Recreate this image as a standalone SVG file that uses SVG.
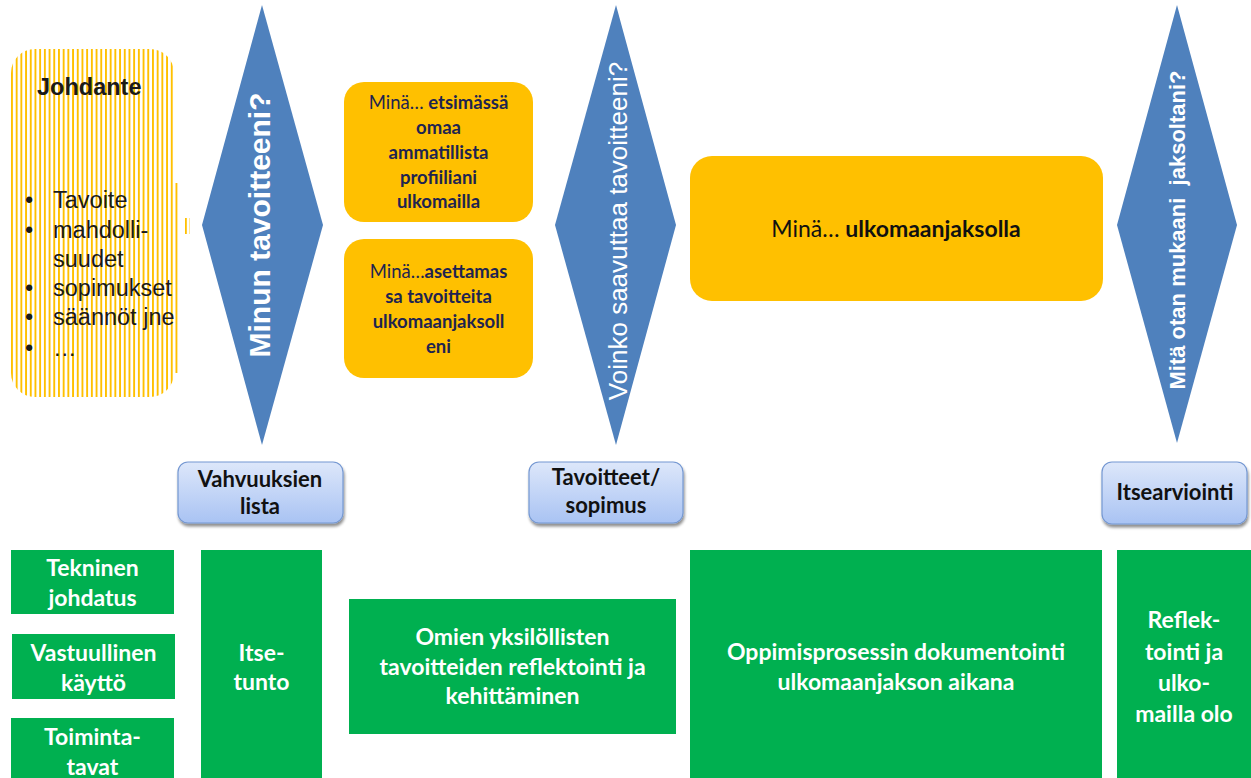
<svg xmlns="http://www.w3.org/2000/svg" width="1251" height="778" viewBox="0 0 1251 778">
<defs>
  <pattern id="stripes" patternUnits="userSpaceOnUse" x="11" y="0" width="4.7" height="10">
    <rect x="0" y="0" width="4.7" height="10" fill="#ffffff"/>
    <rect x="0" y="0" width="1.9" height="10" fill="#FFC000"/>
  </pattern>
  <linearGradient id="blueGrad" x1="0" y1="0" x2="0" y2="1">
    <stop offset="0" stop-color="#DDE7FA"/>
    <stop offset="1" stop-color="#A9C3F3"/>
  </linearGradient>
  <filter id="shadow" x="-10%" y="-10%" width="120%" height="140%">
    <feGaussianBlur in="SourceAlpha" stdDeviation="1.5"/>
    <feOffset dx="1" dy="3" result="b"/>
    <feComponentTransfer><feFuncA type="linear" slope="0.45"/></feComponentTransfer>
    <feMerge><feMergeNode/><feMergeNode in="SourceGraphic"/></feMerge>
  </filter>
</defs>
<style>
  .diamond { fill: #4F81BD; }
  .dtext { fill: #ffffff; font-family: "Liberation Sans", Arial, sans-serif; text-anchor: middle; }
  .orange { fill: #FFC000; }
  .otext { fill: #1E2450; font-family: Lato, "Liberation Sans", sans-serif; font-size: 18.5px; text-anchor: middle; }
  .big { fill: #111111; font-size: 23px; }
  .blue { fill: url(#blueGrad); stroke: #7598D2; stroke-width: 1.2; filter: url(#shadow); }
  .btext { fill: #111111; font-family: Lato, "Liberation Sans", sans-serif; font-weight: bold; font-size: 22px; text-anchor: middle; }
  .green { fill: #00B050; }
  .gtext { fill: #ffffff; font-family: Lato, "Liberation Sans", sans-serif; font-weight: bold; font-size: 23px; text-anchor: middle; }
  .jtext { fill: #1a1a1a; font-family: "Liberation Sans", Arial, sans-serif; font-size: 23.5px; }
  .bold { font-weight: bold; }
</style>
<rect width="1251" height="778" fill="#ffffff"/>

<g id="johdante">
  <rect x="11" y="49" width="163" height="348" rx="24" fill="url(#stripes)"/>
  <rect x="174" y="183" width="5" height="190" fill="url(#stripes)"/>
  <rect x="185" y="218" width="5" height="16" fill="url(#stripes)"/>
  <text class="jtext" x="37" y="95" font-weight="bold" font-size="24">Johdante</text>
  <text class="jtext" x="25" y="208">•</text>
  <text class="jtext" x="53" y="208">Tavoite</text>
  <text class="jtext" x="25" y="238">•</text>
  <text class="jtext" x="53" y="238">mahdolli-</text>
  <text class="jtext" x="53" y="267">suudet</text>
  <text class="jtext" x="25" y="296">•</text>
  <text class="jtext" x="53" y="296">sopimukset</text>
  <text class="jtext" x="25" y="325">•</text>
  <text class="jtext" x="53" y="325">säännöt jne</text>
  <text class="jtext" x="25" y="356">•</text>
  <text class="jtext" x="53" y="356" font-size="16" fill="#555">…</text>
</g>

<g id="diamond1">
  <polygon class="diamond" points="262,5 323,225 262,445 202,225"/>
  <text class="dtext" transform="translate(270,225) rotate(-90)" font-size="30" font-weight="bold">Minun tavoitteeni?</text>
</g>
<g id="diamond2">
  <polygon class="diamond" points="616,5 676,225 616,445 555,225"/>
  <text class="dtext" transform="translate(627,231) rotate(-90)" font-size="26">Voinko saavuttaa tavoitteeni?</text>
</g>
<g id="diamond3">
  <polygon class="diamond" points="1177,5 1237,225 1177,443 1117,225"/>
  <text class="dtext" transform="translate(1185,230) rotate(-90)" font-size="22" font-weight="bold" xml:space="preserve">Mitä otan mukaani  jaksoltani?</text>
</g>

<g id="orange1">
  <rect class="orange" x="344" y="82" width="189" height="140" rx="20"/>
  <text class="otext" x="438.5" y="109">Minä… <tspan class="bold">etsimässä</tspan></text>
  <text class="otext bold" x="438.5" y="134">omaa</text>
  <text class="otext bold" x="438.5" y="159">ammatillista</text>
  <text class="otext bold" x="438.5" y="184">profiiliani</text>
  <text class="otext bold" x="438.5" y="208">ulkomailla</text>
</g>
<g id="orange2">
  <rect class="orange" x="344" y="239" width="189" height="139" rx="20"/>
  <text class="otext" x="438.5" y="278">Minä…<tspan class="bold">asettamas</tspan></text>
  <text class="otext bold" x="438.5" y="303">sa tavoitteita</text>
  <text class="otext bold" x="438.5" y="328">ulkomaanjaksoll</text>
  <text class="otext bold" x="438.5" y="353">eni</text>
</g>
<g id="orange3">
  <rect class="orange" x="690" y="156" width="413" height="145" rx="22"/>
  <text class="otext big" x="896" y="237">Minä… <tspan class="bold">ulkomaanjaksolla</tspan></text>
</g>

<g id="blue1">
  <rect class="blue" x="178" y="462" width="165" height="61" rx="10"/>
  <text class="btext" x="260" y="487">Vahvuuksien</text>
  <text class="btext" x="260" y="514">lista</text>
</g>
<g id="blue2">
  <rect class="blue" x="529" y="462" width="154" height="61" rx="10"/>
  <text class="btext" x="606" y="485">Tavoitteet/</text>
  <text class="btext" x="606" y="513">sopimus</text>
</g>
<g id="blue3">
  <rect class="blue" x="1102" y="462" width="145" height="62" rx="10"/>
  <text class="btext" x="1175" y="500">Itsearviointi</text>
</g>

<g id="green-tekninen">
  <rect class="green" x="11" y="550" width="163" height="64"/>
  <text class="gtext" x="92.5" y="576">Tekninen</text>
  <text class="gtext" x="92.5" y="606">johdatus</text>
</g>
<g id="green-vastuullinen">
  <rect class="green" x="12" y="634" width="163" height="65"/>
  <text class="gtext" x="93.5" y="661">Vastuullinen</text>
  <text class="gtext" x="93.5" y="691">käyttö</text>
</g>
<g id="green-toiminta">
  <rect class="green" x="11" y="718" width="163" height="60"/>
  <text class="gtext" x="92.5" y="745">Toiminta-</text>
  <text class="gtext" x="92.5" y="775">tavat</text>
</g>
<g id="green-itsetunto">
  <rect class="green" x="201" y="550" width="121" height="228"/>
  <text class="gtext" x="261.5" y="661">Itse-</text>
  <text class="gtext" x="261.5" y="690">tunto</text>
</g>
<g id="green-omien">
  <rect class="green" x="349" y="599" width="327" height="135"/>
  <text class="gtext" x="512.5" y="645">Omien yksilöllisten</text>
  <text class="gtext" x="512.5" y="675">tavoitteiden reflektointi ja</text>
  <text class="gtext" x="512.5" y="704">kehittäminen</text>
</g>
<g id="green-oppimis">
  <rect class="green" x="690" y="550" width="412" height="228"/>
  <text class="gtext" x="896" y="660">Oppimisprosessin dokumentointi</text>
  <text class="gtext" x="896" y="690">ulkomaanjakson aikana</text>
</g>
<g id="green-reflek">
  <rect class="green" x="1117" y="550" width="134" height="228"/>
  <text class="gtext" x="1184" y="628">Reflek-</text>
  <text class="gtext" x="1184" y="660">tointi ja</text>
  <text class="gtext" x="1184" y="691">ulko-</text>
  <text class="gtext" x="1184" y="722">mailla olo</text>
</g>
<g id="connectors"></g>
</svg>
